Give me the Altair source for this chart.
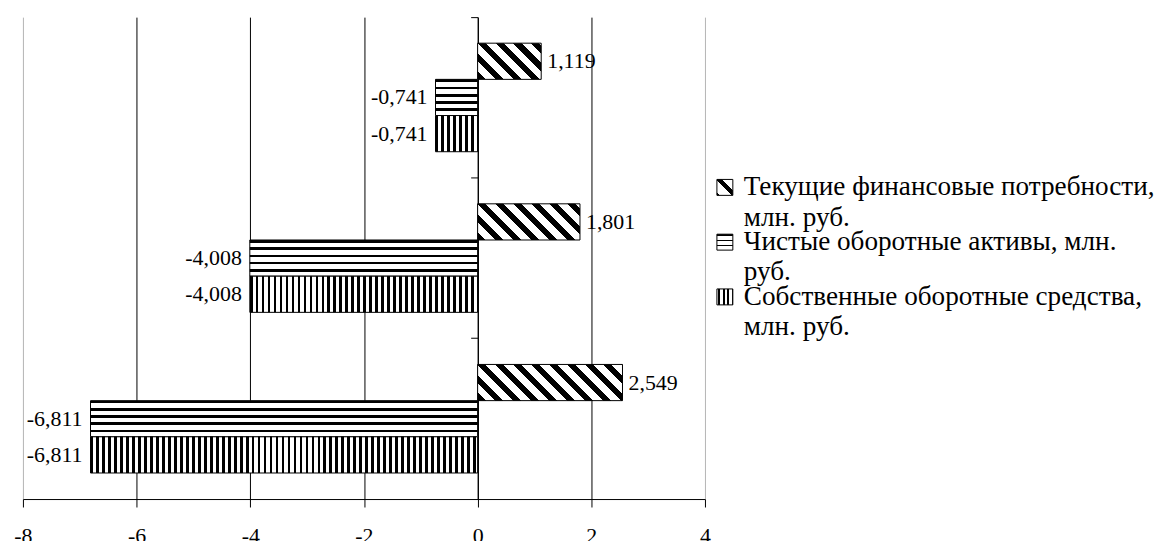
import math
import altair as alt
import pandas as pd

# ---------------- data ----------------
categories = ["Период 1", "Период 2", "Период 3"]
series = [
    "Текущие финансовые потребности, млн. руб.",
    "Чистые оборотные активы,  млн. руб.",
    "Собственные оборотные средства, млн. руб.",
]
legend_lines = [
    "Текущие финансовые потребности,\nмлн. руб.",
    "Чистые оборотные активы,  млн.\nруб.",
    "Собственные оборотные средства,\nмлн. руб.",
]
tfp = [1.119, 1.801, 2.549]      # Текущие финансовые потребности
coa = [-0.741, -4.008, -6.811]   # Чистые оборотные активы
sos = [-0.741, -4.008, -6.811]   # Собственные оборотные средства
x_ticks = [-8, -6, -4, -2, 0, 2, 4]

# ---------------- layout / style ----------------
FONT = "Liberation Serif"
W, H = 685, 484
XMIN, XMAX = -8, 4
PX = W / (XMAX - XMIN)
Y_OUTER = 0.72
BAR_H = (H / len(categories)) / (len(series) + 2 * Y_OUTER)

rows = []
for s, vals in zip(series, [tfp, coa, sos]):
    for c, v in zip(categories, vals):
        rows.append({"category": c, "series": s, "value": v})
df = pd.DataFrame(rows)


def stripes(n, frac, phase=0.0):
    stops = []
    for i in range(-2, int(math.ceil(n)) + 3):
        a = (i + phase) / n
        b = (i + phase + frac) / n
        a, b = max(0.0, a), min(1.0, b)
        if b > a:
            a, b = round(a, 5), round(b, 5)
            stops += [
                alt.GradientStop(offset=a, color="white"),
                alt.GradientStop(offset=a, color="black"),
                alt.GradientStop(offset=b, color="black"),
                alt.GradientStop(offset=b, color="white"),
            ]
    return stops


def lin(stops, x1, y1, x2, y2):
    return alt.LinearGradient(gradient="linear", stops=stops,
                              x1=x1, y1=y1, x2=x2, y2=y2)


def diag(w, h, period_h, frac, phase=0.0):
    r = h / w
    k = (1 + r) / (1 + r * r)
    n = (w + h) / period_h
    return lin(stripes(n, frac, phase), 0, 1, k, 1 - k * r)


x_enc = alt.X(
    "value:Q",
    scale=alt.Scale(domain=[XMIN, XMAX], nice=False),
    axis=alt.Axis(
        values=x_ticks, grid=True,
        gridColor={"condition": {"test": "datum.value === -8 || datum.value === 4",
                                 "value": "#b4b4b4"}, "value": "black"},
        gridWidth=1, tickSize=8, tickColor="black", domainColor="black",
        labelFont=FONT, labelFontSize=22, labelColor="black", labelPadding=19,
        labelExpr="toString(datum.value)", labelFlush=False, title=None,
    ),
)
# category axis drawn on the zero line
y_enc = alt.Y(
    "category:N", sort=categories,
    scale=alt.Scale(domain=categories, paddingInner=0, paddingOuter=0),
    axis=alt.Axis(
        offset=-PX * (0 - XMIN), orient="left", labels=False, ticks=True,
        tickSize=7, tickColor="black", domain=True, domainColor="black",
        grid=False, bandPosition=0, title=None,
    ),
)
yo_enc = alt.YOffset(
    "series:N", sort=series,
    scale=alt.Scale(domain=series, paddingInner=0, paddingOuter=Y_OUTER),
)

base = alt.Chart(df).encode(x=x_enc, y=y_enc, yOffset=yo_enc)

layers = []
# horizontal stripes
layers.append(
    base.transform_filter(alt.datum.series == series[1]).mark_bar(
        fill=lin(stripes(BAR_H / 7.3, 0.36), 0, 0, 0, 1),
        stroke="black", strokeWidth=1,
    )
)
# vertical stripes, one gradient per bar
for c, v in zip(categories, sos):
    w = abs(v) * PX
    layers.append(
        base.transform_filter((alt.datum.series == series[2]) & (alt.datum.category == c))
        .mark_bar(fill=lin(stripes(w / 6.0, 0.45), 0, 0, 1, 0),
                  stroke="black", strokeWidth=1)
    )
# diagonal stripes, one gradient per bar
for c, v in zip(categories, tfp):
    w = abs(v) * PX
    layers.append(
        base.transform_filter((alt.datum.series == series[0]) & (alt.datum.category == c))
        .mark_bar(fill=diag(w, BAR_H, 18.0, 0.45),
                  stroke="black", strokeWidth=1)
    )

lab = base.transform_calculate(label="replace(toString(datum.value), '.', ',')")
layers.append(
    lab.transform_filter(alt.datum.value < 0)
    .mark_text(align="right", baseline="middle", dx=-8, font=FONT, fontSize=22, color="black")
    .encode(text="label:N")
)
layers.append(
    lab.transform_filter(alt.datum.value > 0)
    .mark_text(align="left", baseline="middle", dx=6, font=FONT, fontSize=22, color="black")
    .encode(text="label:N")
)

main = alt.layer(*layers).properties(width=W, height=H)

# ---------------- legend ----------------
leg_df = pd.DataFrame({"series": series, "label": legend_lines})
LEG_STEP = 55.0
LEG_FIRST = 171.0  # centre of first legend line (view px)
LEG_TOP = LEG_FIRST - LEG_STEP / 2
ly = alt.Y("series:N", sort=series,
           scale=alt.Scale(domain=series, paddingInner=0, paddingOuter=0,
                           range=[LEG_TOP, LEG_TOP + LEG_STEP * len(series)]),
           axis=None)
swatch_fills = [
    diag(16, 16, 18.0, 0.35, phase=0.825),
    lin(stripes(3.0, 0.3), 0, 0, 0, 1),
    lin(stripes(3.5, 0.4, phase=0.3), 0, 0, 1, 0),
]
leg_layers = []
for s, f in zip(series, swatch_fills):
    leg_layers.append(
        alt.Chart(leg_df).transform_filter(alt.datum.series == s)
        .mark_square(size=256, fill=f, stroke="black", strokeWidth=1, opacity=1)
        .encode(x=alt.value(14), y=ly)
    )
leg_layers.append(
    alt.Chart(leg_df).mark_text(
        align="left", baseline="middle", lineBreak="\n", lineHeight=30.5,
        font=FONT, fontSize=27.3, color="black",
    ).encode(x=alt.value(33), y=ly, text="label:N")
)
legend = alt.layer(*leg_layers).properties(width=400, height=H)

chart = (
    alt.hconcat(main, legend, spacing=0)
    .properties(padding={"left": 5, "top": 7, "right": 0, "bottom": 0})
    .configure(font=FONT)
    .configure_view(stroke="transparent", strokeWidth=0)
)

chart.save("out.html", embed_options={"renderer": "svg", "actions": False})
